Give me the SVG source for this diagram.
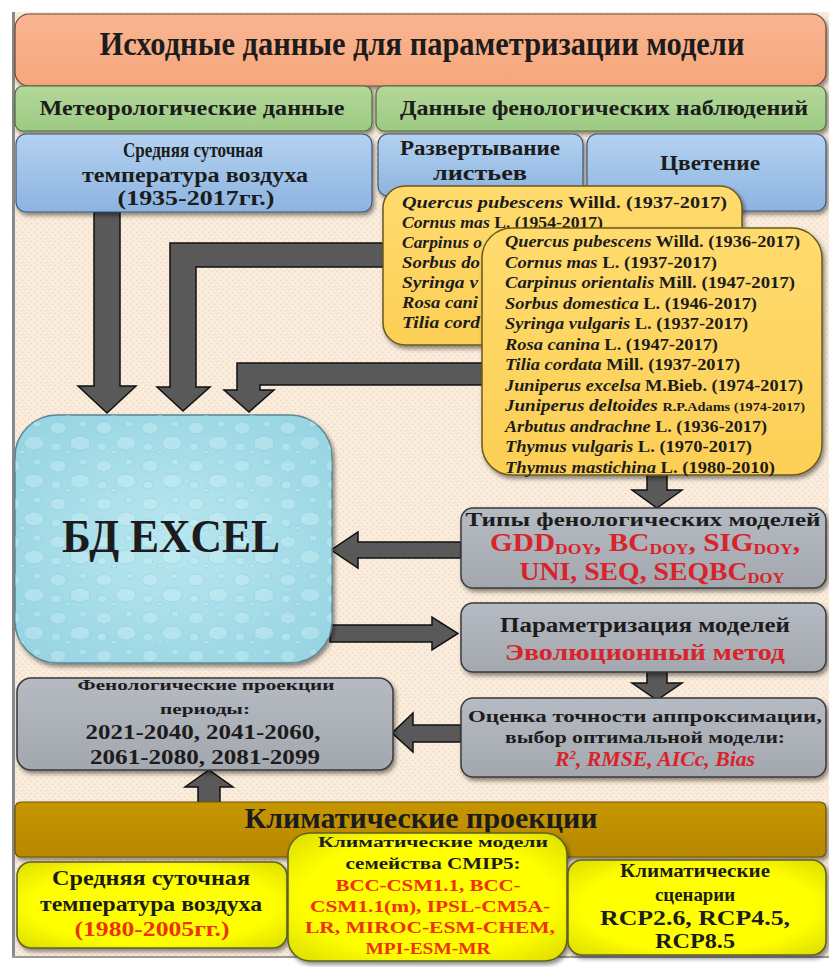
<svg xmlns="http://www.w3.org/2000/svg" width="829" height="967" viewBox="0 0 829 967">
<defs>
<pattern id="bg" width="6" height="6" patternUnits="userSpaceOnUse">
<rect width="6" height="6" fill="#fbeddd"/>
<circle cx="1.5" cy="1.5" r="0.9" fill="#ecd8c3"/>
<circle cx="4.5" cy="4.5" r="0.9" fill="#ecd8c3"/>
</pattern>
<pattern id="drops" width="46" height="38" patternUnits="userSpaceOnUse">
<ellipse cx="12" cy="10" rx="8" ry="6" fill="#d2f3f8" fill-opacity="0.35" stroke="#78bccc" stroke-opacity="0.35"/>
<ellipse cx="34" cy="25" rx="10" ry="7" fill="#d2f3f8" fill-opacity="0.35" stroke="#78bccc" stroke-opacity="0.35"/>
<ellipse cx="37" cy="6" rx="4" ry="3" fill="#d2f3f8" fill-opacity="0.35" stroke="#78bccc" stroke-opacity="0.35"/>
<ellipse cx="10" cy="29" rx="5" ry="4" fill="#d2f3f8" fill-opacity="0.35" stroke="#78bccc" stroke-opacity="0.35"/>
<ellipse cx="22" cy="34" rx="3" ry="2" fill="#d2f3f8" fill-opacity="0.35" stroke="#78bccc" stroke-opacity="0.35"/>
</pattern>
<linearGradient id="gOrange" x1="0" y1="0" x2="0" y2="1"><stop offset="0" stop-color="#f9b591"/><stop offset="1" stop-color="#f6a67c"/></linearGradient>
<linearGradient id="gGreen" x1="0" y1="0" x2="0" y2="1"><stop offset="0" stop-color="#b3d79b"/><stop offset="1" stop-color="#9ccb82"/></linearGradient>
<linearGradient id="gBlue" x1="0" y1="0" x2="0" y2="1"><stop offset="0" stop-color="#b4d2f0"/><stop offset="1" stop-color="#8cb3e0"/></linearGradient>
<linearGradient id="gYel" x1="0" y1="0" x2="0" y2="1"><stop offset="0" stop-color="#ffdb6e"/><stop offset="1" stop-color="#fccf55"/></linearGradient>
<linearGradient id="gGray" x1="0" y1="0" x2="0" y2="1"><stop offset="0" stop-color="#b6bac2"/><stop offset="1" stop-color="#a3a7ae"/></linearGradient>
<radialGradient id="gBright" cx="0.5" cy="0.5" r="0.75"><stop offset="0.6" stop-color="#ffff00"/><stop offset="1" stop-color="#d4d400"/></radialGradient>
<radialGradient id="gWater" cx="0.5" cy="0.5" r="0.7"><stop offset="0" stop-color="#b9e7f0"/><stop offset="1" stop-color="#94d3e2"/></radialGradient>
<linearGradient id="gGold" x1="0" y1="0" x2="0" y2="1"><stop offset="0" stop-color="#c69600"/><stop offset="1" stop-color="#b78800"/></linearGradient>
<filter id="sh" x="-5%" y="-10%" width="112%" height="130%"><feDropShadow dx="2" dy="3" stdDeviation="2" flood-color="#000" flood-opacity="0.45"/></filter>
</defs>
<style>
.t{font-family:"Liberation Serif","Times New Roman",serif;font-weight:bold;fill:#1c1c1c;text-anchor:middle}
.sp{font-family:"Liberation Serif","Times New Roman",serif;font-weight:bold;fill:#1c1c1c}
.i{font-style:italic}
.red{fill:#d9232b}
.ora{fill:#f0300a}
.arrow{fill:#595959;stroke:#111;stroke-width:1.5;stroke-linejoin:miter}
.box{filter:url(#sh)}
</style>
<rect x="0" y="0" width="829" height="967" fill="#ffffff"/>
<rect x="12" y="12" width="817" height="945" fill="url(#bg)"/>
<line x1="13.5" y1="12" x2="13.5" y2="957" stroke="#8a8a8a" stroke-width="3"/>
<line x1="12" y1="957" x2="829" y2="957" stroke="#9a9a9a" stroke-width="2"/>

<g id="connectors">
<polygon class="arrow" points="94,212 120,212 120,386 136,386 107,413 78,386 94,386"/>
<polygon class="arrow" points="390,243 170,243 170,387 157,387 183,411 210,387 196,387 196,267 390,267"/>
<polygon class="arrow" points="490,363 237,363 237,390 224,390 249,412 274,390 260,390 260,385 490,385"/>
<polygon class="arrow" points="461,542 358,542 358,532 331,550 358,568 358,558 461,558"/>
<polygon class="arrow" points="330,625 432,625 432,617 458,633.5 432,650 432,642 330,642"/>
<polygon class="arrow" points="647,470 667,470 667,490 682,490 657,508 632,490 647,490"/>
<polygon class="arrow" points="647,672 667,672 667,683 682,683 657,700 632,683 647,683"/>
<polygon class="arrow" points="461,725 413,725 413,713 392,733 413,752 413,742 461,742"/>
<polygon class="arrow" points="198,803 220,803 220,787 233,787 209,770 185,787 198,787"/>
</g>

<g id="title">
<rect class="box" x="15" y="14" width="811" height="72" rx="14" fill="url(#gOrange)" stroke="#6a4a38" stroke-width="1.2"/>
<text class="t" x="422" y="55" font-size="33" textLength="645" lengthAdjust="spacingAndGlyphs">Исходные данные для параметризации  модели</text>
</g>

<g id="meteo">
<rect class="box" x="15" y="86" width="357" height="45" rx="8" fill="url(#gGreen)" stroke="#4e6b3c" stroke-width="1.2"/>
<text class="t" x="192" y="115" font-size="21" textLength="305" lengthAdjust="spacingAndGlyphs">Метеорологические  данные</text>
</g>

<g id="pheno">
<rect class="box" x="376" y="86" width="450" height="45" rx="8" fill="url(#gGreen)" stroke="#4e6b3c" stroke-width="1.2"/>
<text class="t" x="604" y="115" font-size="21" textLength="408" lengthAdjust="spacingAndGlyphs">Данные фенологических  наблюдений</text>
</g>

<g id="temp-hist">
<rect class="box" x="16" y="134" width="356" height="78" rx="10" fill="url(#gBlue)" stroke="#3c5878" stroke-width="1.2"/>
<text class="t" x="193" y="157" font-size="20" textLength="140" lengthAdjust="spacingAndGlyphs">Средняя  суточная</text>
<text class="t" x="195" y="182" font-size="20" textLength="226" lengthAdjust="spacingAndGlyphs">температура  воздуха</text>
<text class="t" x="196" y="205" font-size="21" textLength="157" lengthAdjust="spacingAndGlyphs">(1935-2017гг.)</text>
</g>

<g id="leaf">
<rect class="box" x="378" y="134" width="205" height="62" rx="10" fill="url(#gBlue)" stroke="#3c5878" stroke-width="1.2"/>
<text class="t" x="480" y="155" font-size="20" textLength="160" lengthAdjust="spacingAndGlyphs">Развертывание</text>
<text class="t" x="480" y="180" font-size="20" textLength="94" lengthAdjust="spacingAndGlyphs">листьев</text>
</g>

<g id="bloom">
<rect class="box" x="587" y="134" width="239" height="77" rx="10" fill="url(#gBlue)" stroke="#3c5878" stroke-width="1.2"/>
<text class="t" x="710" y="170" font-size="21" textLength="100" lengthAdjust="spacingAndGlyphs">Цветение</text>
</g>

<g id="leaf-species">
<rect class="box" x="383" y="186" width="359" height="159" rx="22" fill="url(#gYel)" stroke="#6b5a1e" stroke-width="1.5"/>
<text class="sp" x="402" y="208" font-size="17" textLength="325" lengthAdjust="spacingAndGlyphs"><tspan class="i">Quercus pubescens</tspan> Willd. (1937-2017)</text>
<text class="sp" x="402" y="228" font-size="17" textLength="201" lengthAdjust="spacingAndGlyphs"><tspan class="i">Cornus mas</tspan> L. (1954-2017)</text>
<text class="sp i" x="402" y="248" font-size="17" textLength="80" lengthAdjust="spacingAndGlyphs">Carpinus o</text>
<text class="sp i" x="402" y="268" font-size="17" textLength="78" lengthAdjust="spacingAndGlyphs">Sorbus do</text>
<text class="sp i" x="402" y="288" font-size="17" textLength="76" lengthAdjust="spacingAndGlyphs">Syringa v</text>
<text class="sp i" x="402" y="308" font-size="17" textLength="76" lengthAdjust="spacingAndGlyphs">Rosa cani</text>
<text class="sp i" x="402" y="328" font-size="17" textLength="78" lengthAdjust="spacingAndGlyphs">Tilia cord</text>
</g>

<g id="bloom-species">
<rect class="box" x="482" y="228" width="340" height="247" rx="30" fill="url(#gYel)" stroke="#6b5a1e" stroke-width="1.5"/>
<text class="sp" x="505" y="247" font-size="16" textLength="295" lengthAdjust="spacingAndGlyphs"><tspan class="i">Quercus pubescens</tspan> Willd. (1936-2017)</text>
<text class="sp" x="505" y="267.5" font-size="16" textLength="212" lengthAdjust="spacingAndGlyphs"><tspan class="i">Cornus mas</tspan> L. (1937-2017)</text>
<text class="sp" x="505" y="288" font-size="16" textLength="290" lengthAdjust="spacingAndGlyphs"><tspan class="i">Carpinus orientalis</tspan> Mill. (1947-2017)</text>
<text class="sp" x="505" y="308.5" font-size="16" textLength="252" lengthAdjust="spacingAndGlyphs"><tspan class="i">Sorbus domestica</tspan> L. (1946-2017)</text>
<text class="sp" x="505" y="329" font-size="16" textLength="243" lengthAdjust="spacingAndGlyphs"><tspan class="i">Syringa vulgaris</tspan> L. (1937-2017)</text>
<text class="sp" x="505" y="349.5" font-size="16" textLength="213" lengthAdjust="spacingAndGlyphs"><tspan class="i">Rosa canina</tspan> L. (1947-2017)</text>
<text class="sp" x="505" y="370" font-size="16" textLength="235" lengthAdjust="spacingAndGlyphs"><tspan class="i">Tilia cordata</tspan> Mill. (1937-2017)</text>
<text class="sp" x="505" y="390.5" font-size="16" textLength="298" lengthAdjust="spacingAndGlyphs"><tspan class="i">Juniperus excelsa</tspan> M.Bieb. (1974-2017)</text>
<text class="sp" x="505" y="411" font-size="16" textLength="300" lengthAdjust="spacingAndGlyphs"><tspan class="i">Juniperus deltoides</tspan> <tspan font-size="12">R.P.Adams (1974-2017)</tspan></text>
<text class="sp" x="505" y="431.5" font-size="16" textLength="262" lengthAdjust="spacingAndGlyphs"><tspan class="i">Arbutus andrachne</tspan> L. (1936-2017)</text>
<text class="sp" x="505" y="452" font-size="16" textLength="247" lengthAdjust="spacingAndGlyphs"><tspan class="i">Thymus vulgaris</tspan> L. (1970-2017)</text>
<text class="sp" x="505" y="472.5" font-size="16" textLength="270" lengthAdjust="spacingAndGlyphs"><tspan class="i">Thymus mastichina</tspan> L. (1980-2010)</text>
</g>

<g id="db-excel">
<rect class="box" x="15" y="415" width="317" height="248" rx="42" fill="url(#gWater)" stroke="#5b8591" stroke-width="1.5"/>
<rect x="15" y="415" width="317" height="248" rx="42" fill="url(#drops)"/>
<text class="t" x="171" y="552" font-size="46" textLength="218" lengthAdjust="spacingAndGlyphs">БД  EXCEL</text>
</g>

<g id="model-types">
<rect class="box" x="461" y="508" width="365" height="80" rx="12" fill="url(#gGray)" stroke="#3a3a3a" stroke-width="1.5"/>
<text class="t" x="643" y="526" font-size="18" textLength="355" lengthAdjust="spacingAndGlyphs">Типы фенологических  моделей</text>
<text class="t red" x="645" y="551" font-size="25" textLength="310" lengthAdjust="spacingAndGlyphs">GDD<tspan font-size="15" dy="3">DOY</tspan><tspan dy="-3">, BC</tspan><tspan font-size="15" dy="3">DOY</tspan><tspan dy="-3">, SIG</tspan><tspan font-size="15" dy="3">DOY</tspan><tspan dy="-3">,</tspan></text>
<text class="t red" x="652" y="580" font-size="25" textLength="265" lengthAdjust="spacingAndGlyphs">UNI, SEQ, SEQBC<tspan font-size="15" dy="3">DOY</tspan></text>
</g>

<g id="parametrization">
<rect class="box" x="461" y="603" width="365" height="69" rx="12" fill="url(#gGray)" stroke="#3a3a3a" stroke-width="1.5"/>
<text class="t" x="645" y="632" font-size="20" textLength="290" lengthAdjust="spacingAndGlyphs">Параметризация   моделей</text>
<text class="t red" x="645" y="660" font-size="23" textLength="280" lengthAdjust="spacingAndGlyphs">Эволюционный метод</text>
</g>

<g id="evaluation">
<rect class="box" x="461" y="698" width="365" height="79" rx="12" fill="url(#gGray)" stroke="#3a3a3a" stroke-width="1.5"/>
<text class="t" x="645" y="722" font-size="17" textLength="354" lengthAdjust="spacingAndGlyphs">Оценка точности аппроксимации,</text>
<text class="t" x="645" y="743" font-size="17" textLength="280" lengthAdjust="spacingAndGlyphs">выбор оптимальной модели:</text>
<text class="t red i" x="655" y="766" font-size="20" textLength="200" lengthAdjust="spacingAndGlyphs">R<tspan font-size="12" dy="-7">2</tspan><tspan dy="7">, RMSE, AICc, Bias</tspan></text>
</g>

<g id="pheno-projections">
<rect class="box" x="17" y="678" width="376" height="92" rx="14" fill="url(#gGray)" stroke="#3a3a3a" stroke-width="1.5"/>
<text class="t" x="206" y="690" font-size="15" textLength="257" lengthAdjust="spacingAndGlyphs">Фенологические проекции</text>
<text class="t" x="205" y="714" font-size="15" textLength="90" lengthAdjust="spacingAndGlyphs">периоды:</text>
<text class="t" x="203" y="739" font-size="21" textLength="235" lengthAdjust="spacingAndGlyphs">2021-2040, 2041-2060,</text>
<text class="t" x="205" y="764" font-size="21" textLength="230" lengthAdjust="spacingAndGlyphs">2061-2080, 2081-2099</text>
</g>

<g id="climate-projections">
<rect class="box" x="15" y="802" width="811" height="55" rx="6" fill="url(#gGold)" stroke="#6e5200" stroke-width="1.2"/>
<text class="t" x="421" y="828" font-size="29" textLength="353" lengthAdjust="spacingAndGlyphs">Климатические проекции</text>
</g>

<g id="temp-base">
<rect class="box" x="17" y="862" width="270" height="86" rx="14" fill="url(#gBright)" stroke="#5e5e28" stroke-width="1.5"/>
<text class="t" x="151" y="885" font-size="21" textLength="198" lengthAdjust="spacingAndGlyphs">Средняя  суточная</text>
<text class="t" x="151" y="911" font-size="21" textLength="222" lengthAdjust="spacingAndGlyphs">температура  воздуха</text>
<text class="t ora" x="152" y="936" font-size="21" textLength="155" lengthAdjust="spacingAndGlyphs">(1980-2005гг.)</text>
</g>

<g id="climate-models">
<rect class="box" x="288" y="833" width="279" height="128" rx="22" fill="url(#gBright)" stroke="#5e5e28" stroke-width="1.5"/>
<text class="t" x="433" y="847" font-size="15" textLength="230" lengthAdjust="spacingAndGlyphs">Климатические модели</text>
<text class="t" x="433" y="869" font-size="16" textLength="175" lengthAdjust="spacingAndGlyphs">семейства CMIP5:</text>
<text class="t ora" x="428" y="891" font-size="17" textLength="185" lengthAdjust="spacingAndGlyphs">BCC-CSM1.1, BCC-</text>
<text class="t ora" x="430" y="912" font-size="17" textLength="240" lengthAdjust="spacingAndGlyphs">CSM1.1(m), IPSL-CM5A-</text>
<text class="t ora" x="430" y="933" font-size="17" textLength="250" lengthAdjust="spacingAndGlyphs">LR, MIROC-ESM-CHEM,</text>
<text class="t ora" x="428" y="954" font-size="17" textLength="125" lengthAdjust="spacingAndGlyphs">MPI-ESM-MR</text>
</g>

<g id="scenarios">
<rect class="box" x="568" y="860" width="258" height="95" rx="14" fill="url(#gBright)" stroke="#5e5e28" stroke-width="1.5"/>
<text class="t" x="695" y="877" font-size="19" textLength="150" lengthAdjust="spacingAndGlyphs">Климатические</text>
<text class="t" x="695" y="901" font-size="19" textLength="80" lengthAdjust="spacingAndGlyphs">сценарии</text>
<text class="t" x="695" y="925" font-size="21" textLength="190" lengthAdjust="spacingAndGlyphs">RCP2.6, RCP4.5,</text>
<text class="t" x="695" y="948" font-size="21" textLength="80" lengthAdjust="spacingAndGlyphs">RCP8.5</text>
</g>
</svg>
